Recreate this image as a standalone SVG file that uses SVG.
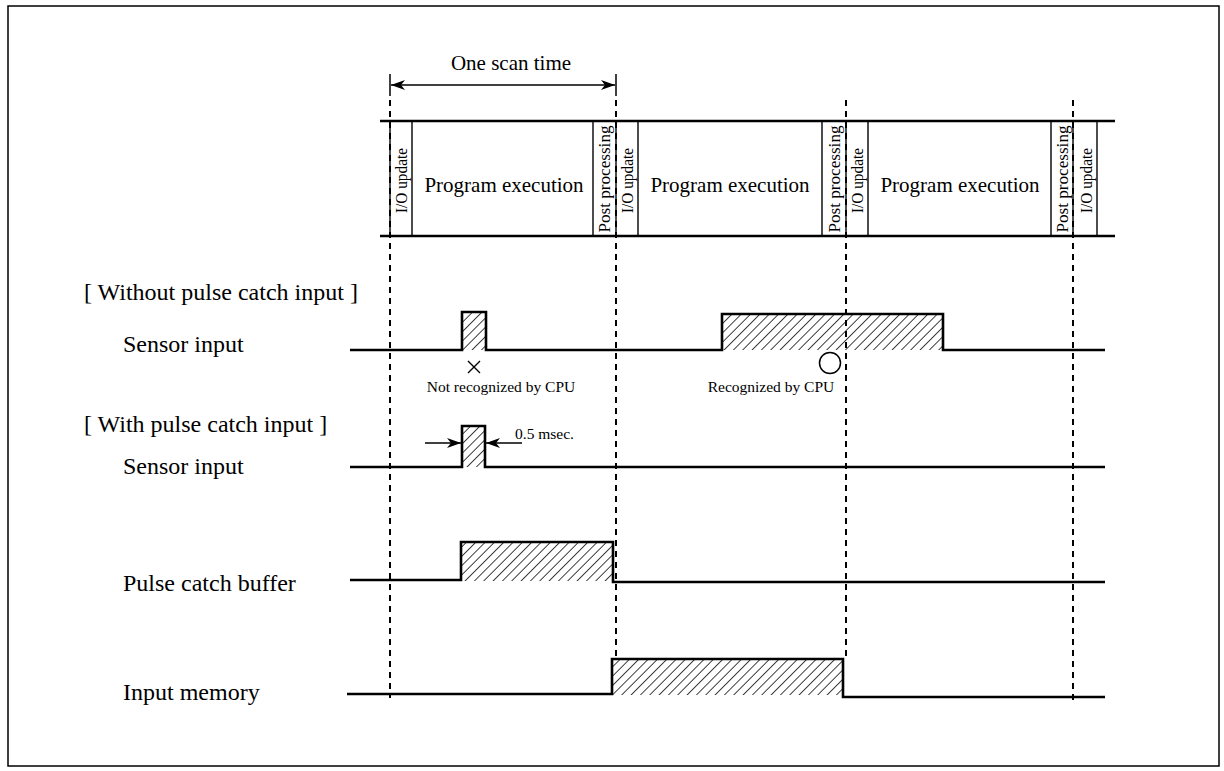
<svg xmlns="http://www.w3.org/2000/svg" width="1224" height="771" viewBox="0 0 1224 771">
<style>
text{font-family:"Liberation Serif","Times New Roman",serif;fill:#000}
.lbl{font-size:24px}
.big{font-size:21px}
.rot{font-size:17px}
.sm{font-size:15.5px}
.sig{fill:none;stroke:#000;stroke-width:2.6;stroke-linejoin:miter}
.band{stroke:#000;stroke-width:2.4;fill:none}
.col{stroke:#000;stroke-width:1.4;fill:none}
.dash{stroke:#000;stroke-width:2;stroke-dasharray:6 5;fill:none}
.hatch{fill:url(#h);stroke:none}
.arr{stroke:#000;stroke-width:1.5;fill:none}
</style>
<defs>
<pattern id="h" patternUnits="userSpaceOnUse" width="6.6" height="6.6" patternTransform="rotate(45)">
<line x1="0" y1="0" x2="0" y2="6.6" stroke="#000" stroke-width="1.5"/>
</pattern>
<marker id="ah" viewBox="0 0 14 10" refX="14" refY="5" markerWidth="14" markerHeight="10" markerUnits="userSpaceOnUse" orient="auto-start-reverse">
<path d="M0,0 L14,5 L0,10 L4,5 Z" fill="#000"/>
</marker>
</defs>
<rect x="8" y="6" width="1211" height="760" fill="none" stroke="#000" stroke-width="1.5"/>

<g id="connectors">
<line class="dash" x1="390" y1="100" x2="390" y2="698"/>
<line class="dash" x1="616" y1="100" x2="616" y2="657"/>
<line class="dash" x1="846" y1="100" x2="846" y2="657"/>
<line class="dash" x1="1073" y1="100" x2="1073" y2="700"/>
</g>

<g id="scan-time">
<line class="arr" x1="390" y1="74" x2="390" y2="96"/>
<line class="arr" x1="616" y1="74" x2="616" y2="96"/>
<line class="arr" x1="391" y1="85" x2="615" y2="85" marker-start="url(#ah)" marker-end="url(#ah)"/>
<text class="big" x="511" y="70" text-anchor="middle">One scan time</text>
</g>

<g id="band">
<line class="band" x1="380" y1="121" x2="1115" y2="121"/>
<line class="band" x1="380" y1="236" x2="1115" y2="236"/>
<g class="col">
<line x1="390" y1="121" x2="390" y2="236"/>
<line x1="412" y1="121" x2="412" y2="236"/>
<line x1="593" y1="121" x2="593" y2="236"/>
<line x1="616" y1="121" x2="616" y2="236"/>
<line x1="638" y1="121" x2="638" y2="236"/>
<line x1="822" y1="121" x2="822" y2="236"/>
<line x1="846" y1="121" x2="846" y2="236"/>
<line x1="868" y1="121" x2="868" y2="236"/>
<line x1="1051" y1="121" x2="1051" y2="236"/>
<line x1="1073" y1="121" x2="1073" y2="236"/>
<line x1="1097" y1="121" x2="1097" y2="236"/>
</g>
<g id="seg1"><text class="rot" transform="translate(407,180.5) rotate(-90)" text-anchor="middle" textLength="65" lengthAdjust="spacingAndGlyphs">I/O update</text></g>
<g id="seg2"><text class="big" x="504" y="192" text-anchor="middle">Program execution</text></g>
<g id="seg3"><text class="rot" transform="translate(609.5,179) rotate(-90)" text-anchor="middle" textLength="107" lengthAdjust="spacingAndGlyphs">Post processing</text></g>
<g id="seg4"><text class="rot" transform="translate(633,180.5) rotate(-90)" text-anchor="middle" textLength="65" lengthAdjust="spacingAndGlyphs">I/O update</text></g>
<g id="seg5"><text class="big" x="730" y="192" text-anchor="middle">Program execution</text></g>
<g id="seg6"><text class="rot" transform="translate(839.5,179) rotate(-90)" text-anchor="middle" textLength="107" lengthAdjust="spacingAndGlyphs">Post processing</text></g>
<g id="seg7"><text class="rot" transform="translate(863,180.5) rotate(-90)" text-anchor="middle" textLength="65" lengthAdjust="spacingAndGlyphs">I/O update</text></g>
<g id="seg8"><text class="big" x="960" y="192" text-anchor="middle">Program execution</text></g>
<g id="seg9"><text class="rot" transform="translate(1067.5,179) rotate(-90)" text-anchor="middle" textLength="107" lengthAdjust="spacingAndGlyphs">Post processing</text></g>
<g id="seg10"><text class="rot" transform="translate(1091.5,180.5) rotate(-90)" text-anchor="middle" textLength="65" lengthAdjust="spacingAndGlyphs">I/O update</text></g>
</g>

<g id="labels">
<text class="lbl" x="84" y="300">[ Without pulse catch input ]</text>
<text class="lbl" x="123" y="352">Sensor input</text>
<text class="lbl" x="84" y="432">[ With pulse catch input ]</text>
<text class="lbl" x="123" y="474">Sensor input</text>
<text class="lbl" x="123" y="591">Pulse catch buffer</text>
<text class="lbl" x="123" y="700">Input memory</text>
</g>

<g id="sig-without">
<rect class="hatch" x="462" y="312" width="24" height="38"/>
<rect class="hatch" x="722" y="314" width="221" height="36"/>
<path class="sig" d="M350,350 H462 V312 H486 V350 H722 V314 H943 V350 H1105"/>
<path d="M468,361 L480,373 M480,361 L468,373" stroke="#000" stroke-width="1.4"/>
<text class="sm" x="501" y="392" text-anchor="middle">Not recognized by CPU</text>
<circle cx="830" cy="363" r="10.5" fill="none" stroke="#000" stroke-width="1.5"/>
<text class="sm" x="771" y="392" text-anchor="middle">Recognized by CPU</text>
</g>

<g id="sig-with">
<rect class="hatch" x="462" y="426" width="23" height="41"/>
<path class="sig" d="M350,467 H462 V426 H485 V467 H1105"/>
<line class="arr" x1="425" y1="443" x2="461" y2="443" marker-end="url(#ah)"/>
<line class="arr" x1="522" y1="443" x2="486" y2="443" marker-end="url(#ah)"/>
<text class="sm" x="515" y="439">0.5 msec.</text>
</g>

<g id="sig-buffer">
<rect class="hatch" x="461" y="542" width="152" height="39"/>
<path class="sig" d="M350,580 H461 V542 H613 V582 H1105"/>
</g>

<g id="sig-memory">
<rect class="hatch" x="612" y="659" width="231" height="36"/>
<path class="sig" d="M347,694 H612 V659 H843 V697 H1105"/>
</g>
</svg>
